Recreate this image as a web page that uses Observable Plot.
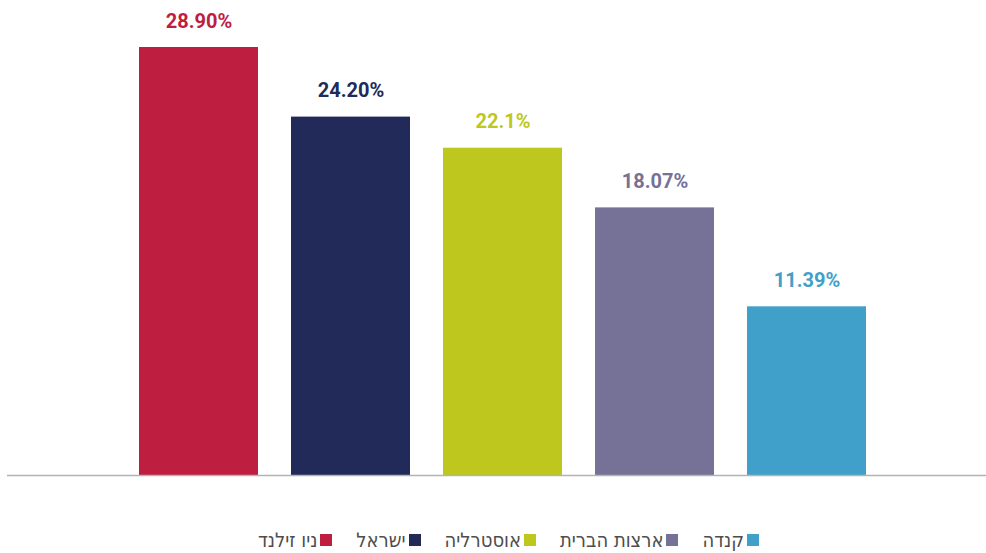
<!DOCTYPE html>
<html lang="he">
<head>
<meta charset="utf-8">
<script src="https://cdn.jsdelivr.net/npm/d3@7"></script>
<script src="https://cdn.jsdelivr.net/npm/@observablehq/plot@0.6"></script>
<style>
  html, body { margin: 0; padding: 0; background: #fff; }
  #chart { width: 986px; }
  .legend { display: flex; direction: ltr; justify-content: flex-start; align-items: center; margin-top: 38px; height: 24px; padding-left: 258px;
    font-family: "DejaVu Sans Condensed", "Liberation Sans Narrow", "Noto Sans", sans-serif; font-size: 20px; color: #4d4d4d; }
  .legend .item { display: flex; align-items: center; margin-right: 24px; }
  .legend .sw { width: 12px; height: 12px; margin-left: 3px; display: inline-block; flex: none; }
</style>
</head>
<body>
<div id="chart"></div>
<script>
const categories = ["ניו זילנד", "ישראל", "אוסטרליה", "ארצות הברית", "קנדה"];
const values = [28.90, 24.20, 22.1, 18.07, 11.39];
const valueLabels = ["28.90%", "24.20%", "22.1%", "18.07%", "11.39%"];
const colors = ["#BE1E3F", "#222A59", "#BEC71E", "#767196", "#41A0CA"];

const data = categories.map((c, i) => ({ country: c, value: values[i], label: valueLabels[i], color: colors[i] }));

const chart = Plot.plot({
  width: 986,
  height: 490,
  marginTop: 47,
  marginBottom: 15,
  marginLeft: 7,
  marginRight: 0,
  style: { fontFamily: "Roboto, 'DejaVu Sans Condensed', sans-serif", background: "#fff" },
  x: { domain: categories, range: [122, 882], paddingInner: 0.22, paddingOuter: 0.11, axis: null },
  y: { domain: [0, 28.9], axis: null },
  color: { domain: categories, range: colors },
  marks: [
    Plot.barY(data, { x: "country", y: "value", fill: "country" }),
    Plot.text(data, { x: "country", y: "value", text: "label", fill: "country", dy: -20, lineAnchor: "bottom",
      fontSize: 20, fontWeight: "bold" }),
    Plot.ruleY([0], { stroke: "#b3b3b3", strokeWidth: 1.5 })
  ]
});
document.getElementById("chart").appendChild(chart);

const legend = document.createElement("div");
legend.className = "legend";
categories.forEach((c, i) => {
  const item = document.createElement("div");
  item.className = "item";
  const t = document.createElement("span");
  t.textContent = c;
  t.dir = "rtl";
  const sw = document.createElement("span");
  sw.className = "sw";
  sw.style.background = colors[i];
  item.appendChild(t);
  item.appendChild(sw);
  legend.appendChild(item);
});
document.getElementById("chart").appendChild(legend);
</script>
</body>
</html>
